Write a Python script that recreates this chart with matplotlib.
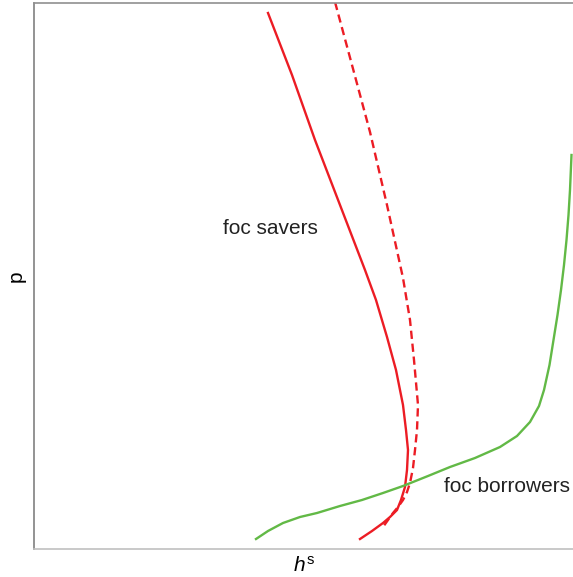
import matplotlib
matplotlib.use('Agg')
import matplotlib.pyplot as plt

# curve points (axis units, no ticks in the original)
savers_x = [234, 258, 281, 306, 331, 342, 353, 362, 369, 372, 374, 373, 371, 367, 363, 356, 349, 338, 326]
savers_y = [536, 474, 409, 344, 279, 249, 212, 179, 144, 119, 99, 79, 62, 49, 39, 32, 26, 18, 10]

dashed_x = [301, 318, 336, 353, 369, 376, 380, 384, 383, 381, 379, 376, 373, 369, 364, 359, 354, 349]
dashed_y = [547, 484, 417, 344, 271, 229, 189, 144, 119, 99, 81, 66, 57, 49, 42, 36, 29, 22]

green_x = [222, 234, 249, 266, 283, 306, 328, 349, 369, 394, 416, 441, 466, 483,
           496, 505, 510, 515.5, 519.5, 523.5, 527, 530, 532.5, 534.5, 536, 537.5]
green_y = [10, 18, 26, 32, 36, 43, 49, 56, 63, 73, 82, 91, 102, 113,
           127, 143, 159, 184, 209, 234, 259, 284, 309, 334, 359, 394]

plt.rcParams['font.family'] = ['Liberation Sans', 'DejaVu Sans']
plt.rcParams['mathtext.fontset'] = 'custom'
plt.rcParams['mathtext.rm'] = 'Liberation Sans'
plt.rcParams['mathtext.it'] = 'Liberation Sans:italic'

fig = plt.figure(figsize=(5.73, 5.77), dpi=100)
ax = fig.add_axes([34 / 573, 28 / 577, 539 / 573, 546 / 577])

ax.plot(savers_x, savers_y, color='#ec1c24', lw=1.7)
ax.plot(dashed_x, dashed_y, color='#ec1c24', lw=1.7, ls=(0, (3.5, 2)))
ax.plot(green_x, green_y, color='#62b946', lw=1.7)

ax.text(236, 321, 'foc savers', fontsize=15, color='#222222', ha='center', va='center')
ax.text(473, 63, 'foc borrowers', fontsize=15, color='#222222', ha='center', va='center')

ax.set_xlim(0, 539)
ax.set_ylim(0, 546)
ax.set_xticks([])
ax.set_yticks([])
ax.set_xlabel('$h^{\\mathrm{s}}$', fontsize=15, labelpad=5)
ax.set_ylabel('p', fontsize=15, labelpad=6)
ax.spines['right'].set_visible(False)
ax.spines['left'].set_color('#808080')
ax.spines['top'].set_color('#909090')
ax.spines['bottom'].set_color('#c0c0c0')
for s in ax.spines.values():
    s.set_linewidth(1.2)

fig.savefig('out.png', dpi=100)
